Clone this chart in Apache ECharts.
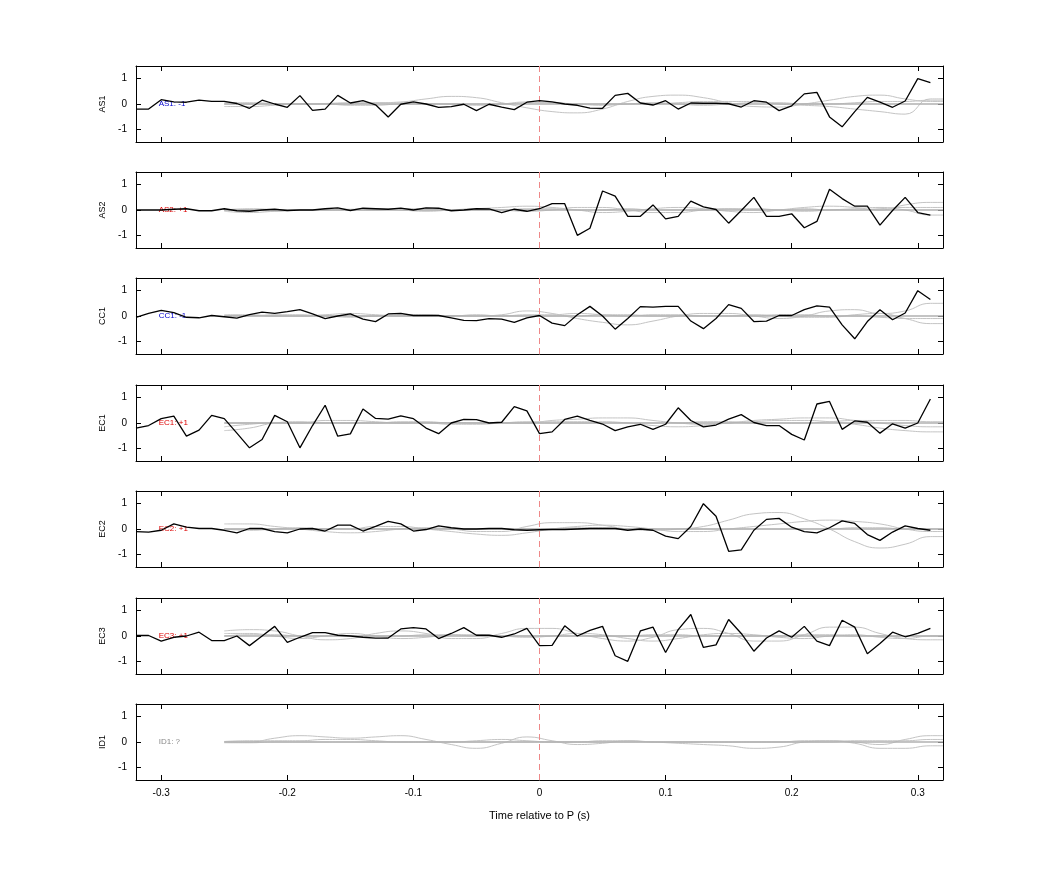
<!DOCTYPE html>
<html><head><meta charset="utf-8">
<script src="https://cdn.jsdelivr.net/npm/echarts@6/dist/echarts.min.js"></script>
<style>html,body{margin:0;background:#fff}#c{width:1042px;height:875px}</style>
</head><body><div id="c"></div>
<script>
const channels = ['AS1','AS2','CC1','EC1','EC2','EC3','ID1'];
const polarity = ['AS1: -1','AS2: +1','CC1: -1','EC1: +1','EC2: +1','EC3: +1','ID1: ?'];
const polColor = ['#0000cc','#dd0000','#0000cc','#dd0000','#dd0000','#dd0000','#888888'];
const xTicks = [-0.3,-0.2,-0.1,0,0.1,0.2,0.3];
const yTicks = [-1,0,1];
const tStart = -0.32, tStep = 0.01;
const gStart = -0.25, gStep = 0.02;

const AS1 = [-0.2,-0.2,0.17,0.08,0.07,0.15,0.1,0.1,0.02,-0.17,0.15,0,-0.13,0.33,-0.25,-0.2,0.34,0.04,0.13,-0.03,-0.51,-0.01,0.08,0,-0.13,-0.1,-0.01,-0.26,-0.01,-0.12,-0.22,0.07,
 0.13,0.08,0,-0.05,-0.16,-0.17,0.34,0.42,0.04,-0.04,0.13,-0.2,0.04,0.03,0.03,0.01,-0.12,0.13,0.07,-0.26,-0.07,0.4,0.46,-0.51,-0.9,-0.3,0.26,0.07,-0.13,0.12,1.0,0.84];
const AS2 = [0,0,0,0.03,0.05,-0.03,-0.03,0.05,-0.03,-0.05,0,0.03,-0.02,0,0,0.05,0.08,-0.02,0.07,0.05,0.03,0.07,0,0.08,0.07,-0.03,0,0.05,0.04,-0.1,0.03,-0.05,
 0.05,0.25,0.25,-1.0,-0.72,0.75,0.55,-0.25,-0.25,0.2,-0.35,-0.25,0.35,0.12,0.02,-0.52,-0.02,0.5,-0.25,-0.25,-0.15,-0.7,-0.45,0.82,0.45,0.15,0.15,-0.6,-0.02,0.5,-0.1,-0.2];
const CC1 = [-0.05,0.1,0.22,0.13,-0.05,-0.07,0.02,-0.03,-0.08,0.05,0.15,0.1,0.17,0.25,0.08,-0.1,0,0.08,-0.12,-0.22,0.08,0.1,0.02,0.02,0.02,-0.07,-0.17,-0.18,-0.1,-0.12,-0.25,-0.07,
 0.02,-0.28,-0.38,0.05,0.38,0,-0.52,-0.1,0.37,0.35,0.38,0.38,-0.2,-0.5,-0.1,0.45,0.3,-0.22,-0.2,0.02,0.02,0.25,0.4,0.35,-0.35,-0.9,-0.22,0.25,-0.15,0.12,1.0,0.65];
const EC1 = [-0.2,-0.1,0.17,0.27,-0.52,-0.28,0.3,0.17,-0.4,-0.98,-0.65,0.3,0.05,-0.98,-0.1,0.7,-0.52,-0.43,0.55,0.18,0.15,0.28,0.17,-0.2,-0.42,0,0.14,0.13,0,0.03,0.65,0.48,
 -0.42,-0.35,0.14,0.27,0.1,-0.04,-0.3,-0.15,-0.05,-0.25,-0.05,0.6,0.1,-0.15,-0.08,0.15,0.33,0.02,-0.1,-0.1,-0.45,-0.67,0.75,0.85,-0.25,0.08,0.03,-0.4,-0.03,-0.2,0,0.95];
const EC2 = [-0.1,-0.12,-0.05,0.2,0.07,0.02,0.02,-0.05,-0.15,0.02,0.02,-0.1,-0.15,0,0.02,-0.08,0.15,0.15,-0.08,0.1,0.3,0.2,-0.08,-0.02,0.12,0.05,0,0,0.02,0.02,-0.03,-0.05,
 -0.03,-0.02,-0.02,0,0.02,0.02,0.02,-0.05,0,-0.05,-0.28,-0.38,0.1,1.0,0.5,-0.88,-0.82,-0.05,0.38,0.42,0.07,-0.1,-0.15,0.05,0.32,0.22,-0.22,-0.45,-0.12,0.12,0.02,-0.05];
const EC3 = [0.02,0.02,-0.2,-0.05,0,0.15,-0.18,-0.18,0,-0.38,0,0.38,-0.25,-0.05,0.13,0.13,0.03,0,-0.05,-0.08,-0.08,0.28,0.33,0.28,-0.1,0.1,0.33,0.03,0.03,-0.05,0.08,0.3,
 -0.38,-0.37,0.4,0,0.22,0.38,-0.78,-1.0,0.2,0.35,-0.65,0.25,0.85,-0.45,-0.35,0.65,0.1,-0.6,-0.08,0.2,-0.05,0.38,-0.2,-0.38,0.62,0.35,-0.7,-0.3,0.15,-0.03,0.1,0.3];
const ID1 = null;
const blacks = [AS1,AS2,CC1,EC1,EC2,EC3,ID1];

// gray template traces, values at -0.25 .. 0.31 step 0.02
const gray = [
 [[0,0,0,0,0.02,0.05,0.05,0.08,0.2,0.3,0.25,0.05,-0.15,-0.3,-0.35,-0.2,0.1,0.3,0.35,0.25,0.05,-0.1,-0.12,0,0.15,0.3,0.35,0.2,0.1],
  [-0.1,-0.1,-0.05,0,0,-0.05,-0.05,0,0,0,0,0,0.05,0.05,0,0,0,0,0.05,0.1,0.1,0.1,0,-0.05,-0.1,-0.2,-0.3,-0.4,0.2],
  [0.05,0.05,0.02,0,0,0,0.05,0.05,0,0,-0.05,0,0.08,0.05,0,-0.05,0,0.05,0,-0.05,0,0.05,0.05,0,0,0.05,0.1,0.1,0.15]],
 [[0,0,-0.05,0,0.02,0.03,0,0.05,0,0,0.05,0.1,0.15,0.1,0,-0.1,-0.05,0.05,0.1,0.05,-0.05,-0.1,0,0.1,0.15,0.1,0,0.2,0.3],
  [-0.05,-0.1,-0.05,0,0,0,0.05,0,-0.05,0,0.05,0,-0.05,0,0.1,0.1,0,-0.1,-0.1,0,0.05,0.05,0,-0.05,0,0.05,0.1,0,-0.2],
  [0,0.05,0.02,0,0,0,0,0.05,0.05,0,0,0,0.05,0.05,0,0,0.05,0,0,0,0.05,0,0,0.05,0,0,0.05,0.1,0.1]],
 [[0,0.02,0,0,0.05,0.1,0.05,0,0,0.02,0,0.05,0.2,0.1,-0.1,-0.25,-0.35,-0.2,0,0.1,0.1,0,-0.1,0,0.2,0.25,0.1,0.2,0.5],
  [0.05,0.05,0,0,0,-0.05,0,0.05,0.05,0,0,0,0.05,0.05,0.1,0.05,0,0.05,0.05,0,0,0.05,0,-0.05,-0.05,0.05,0.1,-0.1,-0.3],
  [0,0,0.05,0.05,0,0,0,0,0,0,0.05,0,0,0,0,0.05,0.05,0,0,0,0,0,0.05,0.05,0,0,-0.05,-0.1,-0.1]],
 [[-0.3,-0.2,0,0.05,0,0,0,0.05,0.05,0,0,0,0,0.1,0.15,0.2,0.2,0.1,0,-0.05,0,0.1,0.15,0.2,0.2,0.1,0,-0.1,-0.15],
  [-0.15,-0.05,0,0,0.1,0.1,0.05,0,0,-0.05,-0.05,0,0.05,0.05,0.05,0.05,0,-0.1,-0.15,-0.1,0,0.05,0.1,0.1,0.05,-0.05,-0.2,-0.3,-0.35],
  [0,0,0,0,0,0,0,0,0.02,0.02,0,0,0,0,0,0,0,0,0,0.05,0.05,0,0,0,0.05,0.1,0.1,0.1,0.05]],
 [[0.2,0.2,0.1,0,-0.1,-0.15,-0.1,0,0.05,0,-0.1,-0.1,0.1,0.25,0.25,0.15,0,-0.05,0,0.1,0.35,0.6,0.65,0.4,0,-0.5,-0.75,-0.6,-0.3],
  [0,-0.05,0,0.05,0,0,0.1,0.1,0,-0.1,-0.2,-0.25,-0.15,0,0.1,0.15,0.1,0,-0.1,-0.1,0,0.1,0.2,0.3,0.35,0.3,0.2,0,-0.1],
  [0,0,0,0,0,0,0,0,0,0,0,0,0,0,0.05,0.05,0,0,0,0,0,0,0,0,0,0.05,0.05,0,0]],
 [[0.2,0.25,0.2,0,-0.15,-0.1,0.1,0.2,0.1,-0.1,-0.1,0.1,0.3,0.3,0.1,-0.1,-0.2,-0.05,0.25,0.3,0.1,-0.2,-0.2,0.05,0.35,0.35,0.1,-0.1,-0.15],
  [0.1,0.1,0,-0.1,0,0.1,0,-0.1,-0.05,0.05,0.05,0,-0.05,0,0.1,0.05,-0.1,-0.2,-0.1,0.05,0.1,0.05,-0.05,-0.1,0,0.05,-0.05,-0.1,0],
  [0,0.05,0.05,0,0,0,0,0,0.05,0.05,0,0,0,0,0,0,0,0.05,0.05,0,0,0,0,0.05,0.05,0,0,0,0]],
 [[0,0,0.15,0.25,0.2,0.15,0.2,0.25,0.1,-0.1,-0.25,-0.05,0.2,0.05,-0.1,-0.05,0.05,0,-0.05,-0.1,-0.15,-0.25,-0.2,0,0.05,0,-0.1,0.1,0.25],
  [0.02,0.05,0.05,0.05,0.1,0.1,0.05,0,0,0,0.05,0.1,0.05,0,0,0.05,0.05,0,0,0,0,0,0,0.05,0.05,-0.05,-0.25,-0.25,-0.15],
  [-0.03,-0.03,0,0,0,0,0,0,0,0,0,0,0,0,0,0,0,0,0,0,0,0,0,0,0,0.05,0.05,0.05,0.1]]
];

const tops = [66,172,278,385,491,598,704];
const H = 76, L = 136, W = 807;
const grids=[], xAxes=[], yAxes=[], series=[];
const axLine = {show:true, onZero:false, lineStyle:{color:'#000', width:1}};
channels.forEach((ch,i)=>{
  grids.push({left:L, top:tops[i], width:W, height:H, show:false});
  const isLast = i===channels.length-1;
  xAxes.push({gridIndex:i, type:'value', min:-0.32, max:0.32, position:'bottom', axisLine:axLine,
    axisTick:{show:true, inside:true, length:5, customValues:xTicks, lineStyle:{color:'#000'}},
    axisLabel:{show:isLast, customValues:xTicks, color:'#000', fontSize:10, fontFamily:'Liberation Sans', margin:8},
    splitLine:{show:false},
    name:isLast?'Time relative to P (s)':'', nameLocation:'middle', nameGap:30,
    nameTextStyle:{color:'#000', fontSize:11, fontFamily:'Liberation Sans'}});
  xAxes.push({gridIndex:i, type:'value', min:-0.32, max:0.32, position:'top', axisLine:axLine,
    axisTick:{show:true, inside:true, length:5, customValues:xTicks, lineStyle:{color:'#000'}},
    axisLabel:{show:false}, splitLine:{show:false}});
  yAxes.push({gridIndex:i, type:'value', min:-1.5, max:1.5, position:'left', axisLine:axLine,
    axisTick:{show:true, inside:true, length:5, customValues:yTicks, lineStyle:{color:'#000'}},
    axisLabel:{customValues:yTicks, color:'#000', fontSize:10, fontFamily:'Liberation Sans', margin:9},
    splitLine:{show:false},
    name:ch, nameLocation:'middle', nameGap:28, nameRotate:90,
    nameTextStyle:{color:'#000', fontSize:9, fontFamily:'Liberation Sans'}});
  yAxes.push({gridIndex:i, type:'value', min:-1.5, max:1.5, position:'right', axisLine:axLine,
    axisTick:{show:true, inside:true, length:5, customValues:yTicks, lineStyle:{color:'#000'}},
    axisLabel:{show:false}, splitLine:{show:false}});
  gray[i].forEach(g=>{
    series.push({type:'line', xAxisIndex:2*i, yAxisIndex:2*i, smooth:true, showSymbol:false, silent:true,
      lineStyle:{color:'#c4c4c4', width:1}, data:g.map((v,k)=>[gStart+k*gStep, v]).concat([[0.32, g[g.length-1]]])});
  });
  series.push({type:'line', xAxisIndex:2*i, yAxisIndex:2*i, showSymbol:false, silent:true,
    lineStyle:{color:'#b0b0b0', width:1.5}, data:[[gStart,0],[0.32,0]]});
  const b = blacks[i];
  series.push({type:'line', xAxisIndex:2*i, yAxisIndex:2*i, showSymbol:false, silent:true, z:5,
    lineStyle:{color:'#000', width:1.3}, data: b ? b.map((v,k)=>[tStart+k*tStep, v]) : [],
    markLine:{symbol:'none', silent:true, label:{show:false},
      lineStyle:{color:'#e88', type:[6,4], width:1}, data:[{xAxis:0}]},
    markPoint:{symbol:'circle', symbolSize:0, silent:true,
      label:{show:true, formatter:polarity[i], color:polColor[i], fontSize:8, fontFamily:'Liberation Sans', position:'right', distance:0},
      data:[{coord:[-0.302,0]}]}
  });
});
const chart = echarts.init(document.getElementById('c'));
chart.setOption({animation:false, backgroundColor:'#fff', grid:grids, xAxis:xAxes, yAxis:yAxes, series:series});
</script></body></html>
